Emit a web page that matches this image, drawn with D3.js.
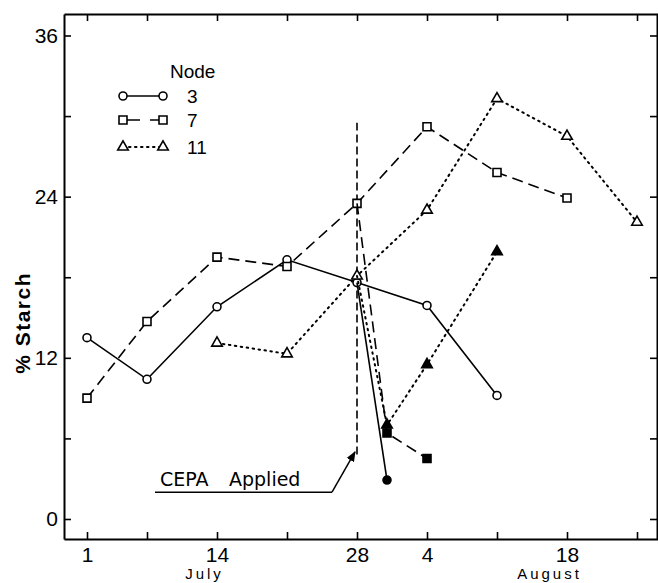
<!DOCTYPE html>
<html>
<head>
<meta charset="utf-8">
<script src="https://cdn.jsdelivr.net/npm/d3@7"></script>
<style>
	body { margin: 0 ; background: #fff ; }
	svg { display: block ; font-family: "Liberation Sans", Arial, sans-serif ; }
</style>
</head>
<body>
<svg id="chart" width="658" height="583"></svg>
<script>
'use strict' ;

// days are counted from 1 July (4 Aug = 35, 18 Aug = 49)
const xTicks = [ 1, 7, 14, 21, 28, 35, 42, 49, 56 ] ;
const xTickLabels = { 1: "1", 14: "14", 28: "28", 35: "4", 49: "18" } ;
const yTicks = [ 0, 6, 12, 18, 24, 30, 36 ] ;
const yTickLabels = { 0: "0", 12: "12", 24: "24", 36: "36" } ;

const node3Days = [ 1, 7, 14, 21, 28, 35, 42 ] ;
const node3Values = [ 13.5, 10.4, 15.8, 19.3, 17.6, 15.9, 9.2 ] ;
const node3CepaDays = [ 28, 31 ] ;
const node3CepaValues = [ 17.6, 2.9 ] ;

const node7Days = [ 1, 7, 14, 21, 28, 35, 42, 49 ] ;
const node7Values = [ 9.0, 14.7, 19.5, 18.8, 23.5, 29.2, 25.8, 23.9 ] ;
const node7CepaDays = [ 28, 31, 35 ] ;
const node7CepaValues = [ 23.5, 6.4, 4.5 ] ;

const node11Days = [ 14, 21, 28, 35, 42, 49, 56 ] ;
const node11Values = [ 13.1, 12.3, 18.1, 23.0, 31.3, 28.5, 22.1 ] ;
const node11CepaDays = [ 28, 31, 35, 42 ] ;
const node11CepaValues = [ 18.1, 7.0, 11.5, 19.9 ] ;

const legendNames = [ "3", "7", "11" ] ;

// CEPA application marker: vertical line at day 28, label underline and arrow
const cepaDay = 28 ;
const cepaRange = [ 4.8, 29.5 ] ;
const cepaUnderline = [ [ 7.8, 2.0 ], [ 25.5, 2.0 ] ] ;
const cepaArrow = [ [ 25.5, 2.0 ], [ 27.8, 5.0 ] ] ;

let svg = d3.select( "#chart" ) ;
let geom = { left: 64, right: 658, top: 14, bottom: 539 } ;

let x = d3.scaleLinear().domain( [ -1.3, 58.1 ] ).range( [ geom.left, geom.right ] ) ;
let y = d3.scaleLinear().domain( [ -1.49, 37.6 ] ).range( [ geom.bottom, geom.top ] ) ;

let styles = {
	"3": { dash: null, symbol: d3.symbolCircle, size: 50 },
	"7": { dash: "11,6", symbol: d3.symbolSquare, size: 64 },
	"11": { dash: "1.5,4.5", symbol: d3.symbolTriangle, size: 48 }
} ;

svg.append( "defs" ).append( "marker" )
	.attr( "id", "arrow" )
	.attr( "viewBox", "0 0 10 10" )
	.attr( "refX", 9 )
	.attr( "refY", 5 )
	.attr( "markerWidth", 7 )
	.attr( "markerHeight", 7 )
	.attr( "orient", "auto" )
	.append( "path" )
	.attr( "d", "M0,1 L10,5 L0,9 Z" )
	.attr( "fill", "#000" ) ;

// axes (ticks point inward on all four sides)
let styleAxis = function( g ) {
	g.selectAll( ".domain" ).attr( "stroke-width", 2 ) ;
	g.selectAll( ".tick line" ).attr( "stroke-width", 1.6 ) ;
	g.selectAll( "text" ).attr( "font-size", "21px" ).attr( "fill", "#000" ) ;
} ;

svg.append( "g" )
	.attr( "transform", "translate(0," + geom.bottom + ")" )
	.call( d3.axisBottom( x ).tickValues( xTicks ).tickSize( -7 ).tickSizeOuter( 0 ).tickPadding( 8 )
		.tickFormat( d => xTickLabels[d] || "" ) )
	.call( styleAxis ) ;
svg.append( "g" )
	.attr( "transform", "translate(0," + geom.top + ")" )
	.call( d3.axisTop( x ).tickValues( xTicks ).tickSize( -7 ).tickSizeOuter( 0 ).tickFormat( "" ) )
	.call( styleAxis ) ;
svg.append( "g" )
	.attr( "transform", "translate(" + geom.left + ",0)" )
	.call( d3.axisLeft( y ).tickValues( yTicks ).tickSize( -7 ).tickSizeOuter( 0 ).tickPadding( 6 )
		.tickFormat( d => yTickLabels[d] || "" ) )
	.call( styleAxis ) ;
svg.append( "g" )
	.attr( "transform", "translate(" + ( geom.right - 1 ) + ",0)" )
	.call( d3.axisRight( y ).tickValues( yTicks ).tickSize( -7 ).tickSizeOuter( 0 ).tickFormat( "" ) )
	.call( styleAxis ) ;

// axis titles
svg.append( "text" )
	.attr( "transform", "translate(30," + y( 14.6 ) + ") rotate(-90)" )
	.attr( "text-anchor", "middle" )
	.attr( "font-size", "21px" )
	.attr( "font-weight", "bold" )
	.attr( "letter-spacing", "1.5px" )
	.text( "% Starch" ) ;
svg.append( "text" )
	.attr( "x", x( 12.6 ) + 1.5 ).attr( "y", 579 )
	.attr( "text-anchor", "middle" )
	.attr( "font-size", "15px" )
	.attr( "letter-spacing", "3px" )
	.text( "July" ) ;
svg.append( "text" )
	.attr( "x", x( 47.1 ) + 1.5 ).attr( "y", 579 )
	.attr( "text-anchor", "middle" )
	.attr( "font-size", "15px" )
	.attr( "letter-spacing", "3px" )
	.text( "August" ) ;

// CEPA annotation
svg.append( "line" )
	.attr( "x1", x( cepaDay ) ).attr( "x2", x( cepaDay ) )
	.attr( "y1", y( cepaRange[0] ) ).attr( "y2", y( cepaRange[1] ) )
	.attr( "stroke", "#000" ).attr( "stroke-width", 1.6 ).attr( "stroke-dasharray", "8,4" ) ;
svg.append( "line" )
	.attr( "x1", x( cepaUnderline[0][0] ) ).attr( "x2", x( cepaUnderline[1][0] ) )
	.attr( "y1", y( cepaUnderline[0][1] ) ).attr( "y2", y( cepaUnderline[1][1] ) )
	.attr( "stroke", "#000" ).attr( "stroke-width", 1.5 ) ;
svg.append( "line" )
	.attr( "x1", x( cepaArrow[0][0] ) ).attr( "x2", x( cepaArrow[1][0] ) )
	.attr( "y1", y( cepaArrow[0][1] ) ).attr( "y2", y( cepaArrow[1][1] ) )
	.attr( "stroke", "#000" ).attr( "stroke-width", 1.5 )
	.attr( "marker-end", "url(#arrow)" ) ;
svg.append( "text" )
	.attr( "x", x( 8.3 ) ).attr( "y", y( 2.0 ) - 6 )
	.attr( "font-family", "'DejaVu Sans', sans-serif" )
	.attr( "font-size", "19px" )
	.text( "CEPA" ) ;
svg.append( "text" )
	.attr( "x", x( 15.2 ) ).attr( "y", y( 2.0 ) - 6 )
	.attr( "font-family", "'DejaVu Sans', sans-serif" )
	.attr( "font-size", "19px" )
	.text( "Applied" ) ;

// series
let series = [
	{ name: "3", days: node3Days, values: node3Values, filled: false },
	{ name: "3", days: node3CepaDays, values: node3CepaValues, filled: true },
	{ name: "7", days: node7Days, values: node7Values, filled: false },
	{ name: "7", days: node7CepaDays, values: node7CepaValues, filled: true },
	{ name: "11", days: node11Days, values: node11Values, filled: false },
	{ name: "11", days: node11CepaDays, values: node11CepaValues, filled: true }
] ;

let line = d3.line().x( d => x( d[0] ) ).y( d => y( d[1] ) ) ;

series.forEach( function( s ) {
	let st = styles[s.name] ;
	let pts = s.days.map( ( d, i ) => [ d, s.values[i] ] ) ;
	svg.append( "path" )
		.attr( "d", line( pts ) )
		.attr( "fill", "none" )
		.attr( "stroke", "#000" )
		.attr( "stroke-width", s.name == "11" ? 2 : 1.6 )
		.attr( "stroke-linecap", s.name == "11" ? "round" : "butt" )
		.attr( "stroke-dasharray", st.dash ) ;
	// the day-28 start of a treated line is the untreated point, already drawn open
	let marks = s.filled ? pts.slice( 1 ) : pts ;
	svg.selectAll( null )
		.data( marks )
		.enter()
		.append( "path" )
		.attr( "transform", d => "translate(" + x( d[0] ) + "," + y( d[1] ) + ")" )
		.attr( "d", d3.symbol().type( st.symbol ).size( st.size ) )
		.attr( "fill", s.filled ? "#000" : "#fff" )
		.attr( "stroke", "#000" )
		.attr( "stroke-width", 1.6 ) ;
} ) ;

// legend
let legend = svg.append( "g" ).attr( "transform", "translate(123,96)" ) ;
legend.append( "text" )
	.attr( "x", 47 ).attr( "y", -18 )
	.attr( "font-size", "19px" )
	.text( "Node" ) ;
legendNames.forEach( function( name, i ) {
	let st = styles[name] ;
	let row = legend.append( "g" ).attr( "transform", "translate(0," + ( i == 0 ? 0 : i == 1 ? 24 : 51 ) + ")" ) ;
	row.append( "line" )
		.attr( "x1", 0 ).attr( "x2", 40 )
		.attr( "stroke", "#000" )
		.attr( "stroke-width", name == "11" ? 2 : 1.6 )
		.attr( "stroke-linecap", name == "11" ? "round" : "butt" )
		.attr( "stroke-dasharray", name == "7" ? "17,10,13" : st.dash ) ;
	[ 0, 40 ].forEach( function( px ) {
		row.append( "path" )
			.attr( "transform", "translate(" + px + ",0)" )
			.attr( "d", d3.symbol().type( st.symbol ).size( st.size ) )
			.attr( "fill", "#fff" )
			.attr( "stroke", "#000" )
			.attr( "stroke-width", 1.6 ) ;
	} ) ;
	row.append( "text" )
		.attr( "x", 64 ).attr( "y", 7 )
		.attr( "font-size", "19px" )
		.text( name ) ;
} ) ;
</script>
</body>
</html>
